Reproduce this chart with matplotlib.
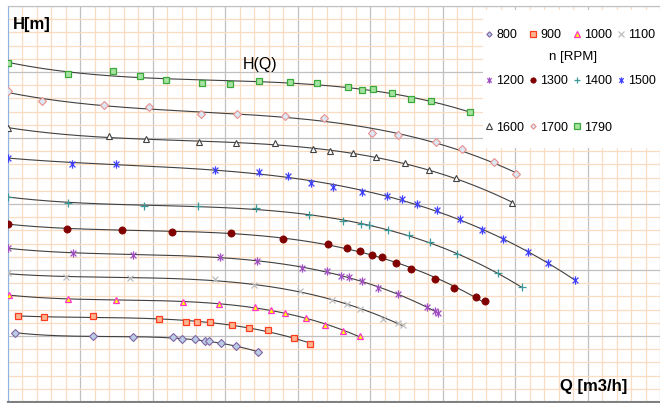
import numpy as np
import matplotlib.pyplot as plt
from matplotlib.path import Path
from matplotlib.patches import Rectangle
from matplotlib.ticker import MultipleLocator

plt.rcParams['font.family'] = ['Liberation Sans', 'DejaVu Sans']

# DATA (Q in m3/h, H in m)
q_800 = [1.9, 23.5, 34.5, 45.5, 48.0, 51.6, 54.4, 55.5, 58.8, 62.9, 69.0]
h_800 = [10.5, 10.0, 9.8, 9.8, 9.5, 9.5, 9.2, 9.2, 8.9, 8.5, 7.6]

q_900 = [2.8, 9.9, 23.5, 41.7, 49.1, 52.1, 55.7, 61.8, 66.5, 71.7, 78.9, 83.3]
h_900 = [13.0, 12.9, 13.0, 12.6, 12.1, 12.1, 12.1, 11.7, 11.2, 10.9, 9.7, 8.8]

q_1000 = [0.3, 16.6, 29.8, 48.3, 58.2, 68.1, 72.6, 76.4, 82.2, 87.5, 92.4, 97.1]
h_1000 = [16.2, 15.6, 15.5, 15.2, 14.8, 14.4, 13.9, 13.5, 12.7, 11.7, 10.8, 10.0]

q_1100 = [0.0, 16.0, 33.7, 57.1, 67.9, 80.6, 89.4, 93.5, 97.1, 103.4, 107.6, 109.0]
h_1100 = [19.5, 18.9, 18.8, 18.6, 17.7, 16.8, 15.5, 14.8, 14.1, 12.6, 12.0, 11.7]

q_1200 = [0.0, 17.9, 34.5, 58.5, 68.7, 81.1, 88.0, 91.9, 94.1, 97.7, 102.1, 107.6, 115.6, 117.8, 118.6]
h_1200 = [23.3, 22.6, 22.3, 22.0, 21.4, 20.3, 19.8, 19.1, 18.9, 18.3, 17.3, 16.4, 14.4, 13.8, 13.5]

q_1300 = [0.0, 16.3, 31.5, 45.2, 61.5, 75.9, 88.3, 93.5, 97.1, 100.4, 103.2, 107.0, 111.2, 117.8, 123.1, 129.1, 131.6]
h_1300 = [27.0, 26.2, 26.1, 25.8, 25.6, 24.7, 23.9, 23.3, 22.9, 22.3, 22.0, 21.1, 20.2, 18.6, 17.3, 15.9, 15.3]

q_1400 = [0.0, 16.6, 37.5, 52.4, 68.4, 83.0, 92.4, 97.4, 99.6, 104.8, 110.6, 116.4, 123.9, 135.2, 141.8]
h_1400 = [31.1, 30.2, 29.7, 29.7, 29.4, 28.3, 27.4, 27.0, 26.8, 26.1, 25.3, 24.2, 22.4, 19.5, 17.4]

q_1500 = [0.0, 17.7, 29.8, 57.1, 69.2, 77.3, 83.6, 89.7, 97.7, 104.6, 108.7, 112.8, 118.4, 124.7, 130.8, 136.6, 143.5, 149.0, 156.4]
h_1500 = [37.0, 36.1, 36.1, 35.2, 34.8, 34.2, 33.2, 32.6, 31.8, 31.2, 30.8, 30.0, 29.1, 27.7, 26.1, 24.7, 22.7, 21.1, 18.5]

q_1600 = [0.0, 27.9, 38.1, 52.7, 62.9, 73.7, 84.1, 88.8, 95.2, 101.5, 109.5, 116.2, 123.6, 139.1]
h_1600 = [41.5, 40.3, 39.8, 39.4, 39.2, 39.2, 38.3, 38.0, 37.7, 37.1, 36.2, 35.2, 33.9, 30.2]

q_1700 = [0.0, 9.4, 26.5, 38.9, 53.2, 63.2, 76.4, 87.2, 100.4, 107.6, 118.1, 125.3, 134.1, 140.2]
h_1700 = [47.1, 45.6, 45.0, 44.7, 43.6, 43.6, 43.3, 43.0, 40.8, 40.5, 39.4, 38.3, 36.4, 34.5]

q_1790 = [0.0, 16.6, 29.0, 36.4, 43.6, 53.5, 61.3, 69.2, 77.8, 85.3, 93.8, 97.7, 100.7, 106.0, 111.2, 116.7, 127.5]
h_1790 = [51.4, 49.7, 50.2, 49.4, 48.8, 48.3, 48.2, 48.6, 48.5, 48.3, 47.7, 47.3, 47.4, 46.8, 45.9, 45.6, 43.9]

speeds = ['800', '900', '1000', '1100', '1200', '1300', '1400', '1500', '1600', '1700', '1790']
series = [(q_800, h_800), (q_900, h_900), (q_1000, h_1000), (q_1100, h_1100),
          (q_1200, h_1200), (q_1300, h_1300), (q_1400, h_1400), (q_1500, h_1500),
          (q_1600, h_1600), (q_1700, h_1700), (q_1790, h_1790)]

# excel-like "star" marker: x with a vertical bar
star = Path([(0, -1), (0, 1), (-0.7, -0.7), (0.7, 0.7), (-0.7, 0.7), (0.7, -0.7)],
            [Path.MOVETO, Path.LINETO] * 3)

styles = {
    '800': dict(marker='D', ms=3.6, mfc='#b9cde5', mec='#8064a2', mew=0.8),
    '900': dict(marker='s', ms=5, mfc='#fcb58f', mec='#ff3b1f', mew=0.9),
    '1000': dict(marker='^', ms=5, mfc='#ffff00', mec='#ff33cc', mew=0.9),
    '1100': dict(marker='x', ms=5, mec='#bfbfbf', mew=0.9),
    '1200': dict(marker=star, ms=6, mec='#a050c0', mew=0.9),
    '1300': dict(marker='o', ms=5.2, mfc='#800000', mec='#800000', mew=0.5),
    '1400': dict(marker='+', ms=5.5, mec='#3a9a9a', mew=0.9),
    '1500': dict(marker=star, ms=6, mec='#4040ff', mew=0.9),
    '1600': dict(marker='^', ms=5, mfc='white', mec='#404040', mew=0.8),
    '1700': dict(marker='D', ms=3.6, mfc='#dbe9f6', mec='#e8908c', mew=0.8),
    '1790': dict(marker='s', ms=5, mfc='#a6e3a1', mec='#3aa83a', mew=0.9),
}

W, Hpx = 660, 403
fig = plt.figure(figsize=(W / 100, Hpx / 100), dpi=100)
ax = fig.add_axes([8 / W, 1 / Hpx, 652 / W, 396 / Hpx])

# PLOT
handles = {}
for name, (q, h) in zip(speeds, series):
    q, h = np.array(q), np.array(h)
    coef = np.polyfit(q, h, 3)
    qq = np.linspace(q.min(), q.max(), 200)
    ax.plot(qq, np.polyval(coef, qq), color='#404040', lw=0.8, zorder=3)
    ln, = ax.plot(q, h, ls='none', label=name, zorder=4, **styles[name])
    handles[name] = ln

ax.set_xlim(0, 180)
ax.set_ylim(0, 60)
ax.xaxis.set_major_locator(MultipleLocator(20))
ax.xaxis.set_minor_locator(MultipleLocator(4))
ax.yaxis.set_major_locator(MultipleLocator(10))
ax.yaxis.set_minor_locator(MultipleLocator(2))
ax.grid(which='minor', color='#fcdcc0', lw=0.9, zorder=0)
ax.grid(which='major', color='#c0c0c0', lw=0.9, zorder=1)
ax.set_axisbelow(True)
ax.tick_params(which='both', length=0, labelbottom=False, labelleft=False)
ax.spines['left'].set_color('#8eb4e3')
ax.spines['bottom'].set_color('#808080')
ax.spines['bottom'].set_linewidth(1.5)
ax.spines['top'].set_color('#c0c0c0')
ax.spines['right'].set_visible(False)

# white legend area
ax.add_patch(Rectangle((475 / 652, (402 - 148) / 396), 1, 138 / 396, transform=ax.transAxes,
                       facecolor='white', edgecolor='none', zorder=5))

order = ['800', '1200', '1600', '900', '1300', '1700', '1000', '1400', '1790', '1100', '1500']
leg = ax.legend([handles[k] for k in order], order, ncol=4, loc='upper left',
                bbox_to_anchor=((485 - 8) / 652, (402 - 29) / 396), frameon=False,
                fontsize=9, handlelength=0.6, handletextpad=0.3, columnspacing=0.38,
                labelspacing=2.75, borderpad=0, borderaxespad=0, markerscale=0.75)
leg.set_zorder(6)

fig.text(573 / W, 1 - 57 / Hpx, 'n [RPM]', fontsize=9.5, ha='center', va='center', zorder=7)
fig.text(13 / W, 1 - 25 / Hpx, 'H[m]', fontsize=12, fontweight='bold', ha='left', va='center')
fig.text(594 / W, 1 - 387 / Hpx, 'Q [m3/h]', fontsize=12, fontweight='bold', ha='center', va='center')
fig.text(260 / W, 1 - 65 / Hpx, 'H(Q)', fontsize=11.5, ha='center', va='center')

fig.savefig('out.png', dpi=100)
